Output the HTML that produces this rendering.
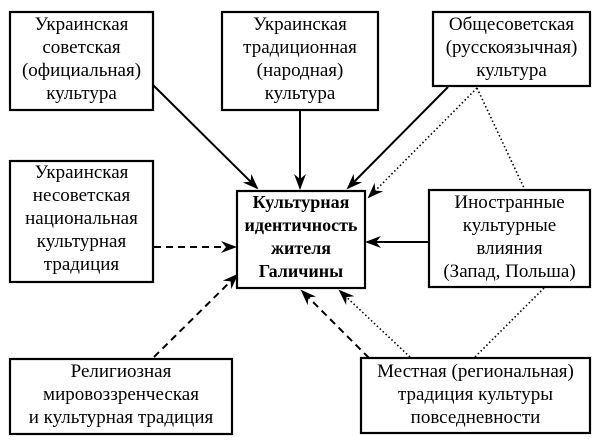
<!DOCTYPE html>
<html><head><meta charset="utf-8"><style>
html,body{margin:0;padding:0;background:#fff;width:600px;height:447px;overflow:hidden;position:relative}
svg{display:block;position:absolute;left:0;top:0}
.t{position:absolute;font-family:"Liberation Serif","DejaVu Serif",serif;font-size:19px;line-height:23px;text-align:center;color:#000;white-space:nowrap}
.bold{font-weight:bold;font-size:18px}
rect{fill:#fff;stroke:#000;stroke-width:2.2}
line{stroke:#000;stroke-width:2}
.d{stroke-dasharray:7,5}
.o{stroke-dasharray:1.5,2.5;stroke-width:1.6}
</style></head><body>
<svg width="600" height="447" viewBox="0 0 600 447">
<defs><marker id="a" markerWidth="16" markerHeight="12" refX="14" refY="6" orient="auto" markerUnits="userSpaceOnUse"><path d="M0,0 L16,6 L0,12 L5,6 z" fill="#000"/></marker></defs>
<line x1="153" y1="85" x2="257" y2="188" marker-end="url(#a)"/>
<line x1="300" y1="110" x2="300" y2="188" marker-end="url(#a)"/>
<line x1="448" y1="87" x2="348" y2="188" marker-end="url(#a)"/>
<line class="o" x1="477" y1="88" x2="369" y2="197" marker-end="url(#a)"/>
<line class="o" x1="477" y1="88" x2="525" y2="190"/>
<line x1="429" y1="242" x2="367" y2="242" marker-end="url(#a)"/>
<line class="d" x1="154" y1="247" x2="235" y2="247" marker-end="url(#a)"/>
<line class="d" x1="154" y1="357" x2="237" y2="275" marker-end="url(#a)"/>
<line class="d" x1="369" y1="358" x2="302" y2="291" marker-end="url(#a)"/>
<line class="o" x1="410" y1="357" x2="340" y2="291" marker-end="url(#a)"/>
<line class="o" x1="544" y1="288" x2="474" y2="358"/>
<rect x="10" y="12" width="143" height="98"/>
<rect x="222" y="12" width="156" height="98"/>
<rect x="433" y="12" width="157" height="74"/>
<rect x="10" y="161" width="143" height="121"/>
<rect x="237" y="191" width="128" height="97"/>
<rect x="429" y="190" width="161" height="97"/>
<rect x="10" y="359" width="222" height="75"/>
<rect x="361" y="358" width="229" height="75"/>
</svg>
<div class="t" style="left:10px;width:143px;top:13px">Украинская<br>советская<br>(официальная)<br>культура</div>
<div class="t" style="left:222px;width:156px;top:13px">Украинская<br>традиционная<br>(народная)<br>культура</div>
<div class="t" style="left:433px;width:157px;top:13px">Общесоветская<br>(русскоязычная)<br>культура</div>
<div class="t" style="left:10px;width:143px;top:161px">Украинская<br>несоветская<br>национальная<br>культурная<br>традиция</div>
<div class="t bold" style="left:237px;width:128px;top:191px">Культурная<br>идентичность<br>жителя<br>Галичины</div>
<div class="t" style="left:429px;width:161px;top:191px">Иностранные<br>культурные<br>влияния<br>(Запад, Польша)</div>
<div class="t" style="left:10px;width:222px;top:360px">Религиозная<br>мировоззренческая<br>и культурная традиция</div>
<div class="t" style="left:361px;width:229px;top:360px">Местная (региональная)<br>традиция культуры<br>повседневности</div>
</body></html>
